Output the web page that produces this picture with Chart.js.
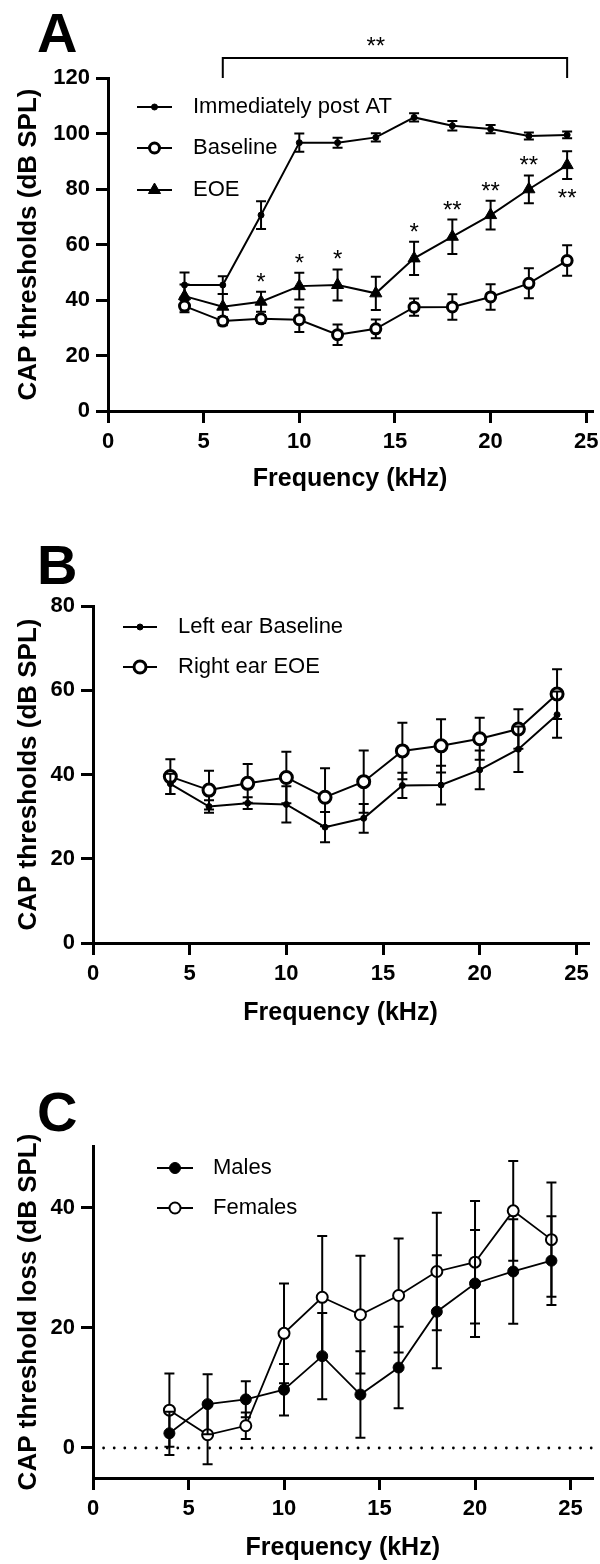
<!DOCTYPE html>
<html>
<head>
<meta charset="utf-8">
<script src="https://cdn.jsdelivr.net/npm/chart.js@4.4.1/dist/chart.umd.min.js"></script>
<style>
html,body{margin:0;padding:0;background:#fff;width:600px;height:1564px;overflow:hidden;}
canvas{position:absolute;left:0;}
.letter{position:absolute;font-family:'Liberation Sans',Arial,sans-serif;font-weight:bold;font-size:56px;line-height:1;color:#000;}
</style>
</head>
<body>
<div class="letter" style="left:37px;top:5px">A</div>
<div class="letter" style="left:37px;top:537px">B</div>
<div class="letter" style="left:37px;top:1084px">C</div>
<canvas id="cA" width="600" height="520" style="top:0px"></canvas>
<canvas id="cB" width="600" height="540" style="top:520px"></canvas>
<canvas id="cC" width="600" height="504" style="top:1060px"></canvas>
<script>
// ---------- data ----------
const freqs = [4, 6, 8, 10, 12, 14, 16, 18, 20, 22, 24];
const xTicks = [0, 5, 10, 15, 20, 25];
const yTicksA = [0, 20, 40, 60, 80, 100, 120];
const yTicksB = [0, 20, 40, 60, 80];
const yTicksC = [0, 20, 40];

// Panel A
const immPost    = [45.4, 45.4, 70.6, 96.7, 96.7, 98.6, 105.8, 102.8, 101.6, 99.1, 99.5];
const immPostErr = [4.5, 3.2, 5.0, 3.3, 1.8, 1.5, 1.5, 1.7, 1.5, 1.3, 1.2];
const baseline    = [37.8, 32.4, 33.2, 32.9, 27.5, 29.6, 37.4, 37.5, 41.1, 46.0, 54.2];
const baselineErr = [2.2, 1.5, 1.4, 4.4, 3.7, 3.4, 3.1, 4.6, 4.6, 5.4, 5.5];
const eoe    = [41.4, 37.6, 39.4, 45.0, 45.4, 42.4, 55.0, 62.8, 70.6, 79.9, 88.6];
const eoeErr = [4.2, 4.6, 3.6, 4.8, 5.6, 6.0, 6.0, 6.2, 5.2, 5.0, 5.0];
const sigLabelsA = ['', '', '*', '*', '*', '', '*', '**', '**', '**', '**'];
const sigBelowA  = [false, false, false, false, false, false, false, false, false, false, true];
const bracketX = [6, 24];
const bracketY = [120, 127.2];
const bracketLabel = '**';
const bracketLabelPos = [14, 128.8];

// Panel B
const leftBase    = [37.8, 32.4, 33.2, 32.9, 27.5, 29.6, 37.4, 37.5, 41.1, 46.0, 54.2];
const leftBaseErr = [2.4, 1.5, 1.4, 4.3, 3.6, 3.4, 3.0, 4.6, 4.6, 5.4, 5.5];
const rightEOE    = [39.5, 36.3, 37.9, 39.3, 34.6, 38.3, 45.6, 46.8, 48.5, 50.8, 59.1];
const rightEOEErr = [4.1, 4.6, 4.6, 6.1, 6.9, 7.4, 6.7, 6.3, 5.0, 4.7, 5.9];

// Panel C
const males      = [2.45, 7.3, 8.1, 9.7, 15.3, 8.9, 13.4, 22.7, 27.4, 29.4, 31.2];
const malesErr   = [3.6, 5.0, 3.0, 4.3, 7.2, 7.2, 6.8, 9.4, 8.9, 8.7, 7.4];
const females    = [6.3, 2.2, 3.7, 19.1, 25.1, 22.2, 25.4, 29.4, 30.95, 39.5, 34.7];
const femalesErr = [6.1, 4.9, 2.2, 8.3, 10.2, 9.8, 9.5, 9.8, 10.2, 8.3, 9.5];
const zeroLineX = [0, 26.15];
const zeroLineY = [0, 0];

// ---------- helpers ----------
const FONT = "'Liberation Sans', Arial, sans-serif";
const pts = (ys, xs) => (xs || freqs).map((f, i) => ({x: f, y: ys[i]}));

function drawMarker(ctx, ds, x, y) {
  const r = ds.pointRadius, bw = ds.pointBorderWidth || 0;
  ctx.beginPath();
  if (ds.pointStyle === 'triangle') {
    let rad = 0;
    for (let k = 0; k < 3; k++) {
      const px = x + Math.sin(rad) * r, py = y - Math.cos(rad) * r;
      if (k === 0) ctx.moveTo(px, py); else ctx.lineTo(px, py);
      rad += 2 * Math.PI / 3;
    }
    ctx.closePath();
  } else {
    ctx.arc(x, y, r, 0, Math.PI * 2);
  }
  ctx.fillStyle = ds.pointBackgroundColor;
  ctx.fill();
  if (bw > 0) { ctx.lineWidth = bw; ctx.strokeStyle = ds.pointBorderColor; ctx.stroke(); }
}

const errorBarPlugin = {
  id: 'errbars',
  beforeDatasetDraw(chart, args) {
    const ds = chart.data.datasets[args.index];
    if (!ds.errors) return;
    const xs = chart.scales.x, ys = chart.scales.y, ctx = chart.ctx;
    ctx.save();
    ctx.strokeStyle = '#000';
    ctx.lineWidth = ds.errorWidth || 2;
    const cw = ds.capHalf || 5;
    ds.data.forEach((p, i) => {
      const e = ds.errors[i];
      const x = xs.getPixelForValue(p.x);
      const yt = ys.getPixelForValue(p.y + e), yb = ys.getPixelForValue(p.y - e);
      ctx.beginPath();
      ctx.moveTo(x, yt); ctx.lineTo(x, yb);
      ctx.moveTo(x - cw, yt); ctx.lineTo(x + cw, yt);
      ctx.moveTo(x - cw, yb); ctx.lineTo(x + cw, yb);
      ctx.stroke();
    });
    ctx.restore();
  }
};

const legendPlugin = {
  id: 'customLegend',
  afterDraw(chart, args, opts) {
    if (!opts || !opts.ys) return;
    const ctx = chart.ctx;
    ctx.save();
    let k = 0;
    chart.data.datasets.forEach(ds => {
      if (ds.noLegend) return;
      const y = opts.ys[k++];
      ctx.strokeStyle = '#000';
      ctx.lineWidth = ds.borderWidth;
      ctx.beginPath();
      ctx.moveTo(opts.lineX[0], y); ctx.lineTo(opts.lineX[1], y);
      ctx.stroke();
      drawMarker(ctx, ds, (opts.lineX[0] + opts.lineX[1]) / 2, y);
      ctx.fillStyle = '#000';
      ctx.font = '22px ' + FONT;
      ctx.textBaseline = 'middle';
      ctx.textAlign = 'left';
      ctx.fillText(ds.label, opts.textX, y);
    });
    ctx.restore();
  }
};

const sigPlugin = {
  id: 'sigMarks',
  afterDatasetsDraw(chart, args, opts) {
    if (!opts || !opts.on) return;
    const xs = chart.scales.x, ys = chart.scales.y, ctx = chart.ctx;
    ctx.save();
    ctx.fillStyle = '#000';
    ctx.strokeStyle = '#000';
    ctx.font = '24px ' + FONT;
    ctx.textAlign = 'center';
    ctx.textBaseline = 'alphabetic';
    freqs.forEach((f, i) => {
      const lab = sigLabelsA[i];
      if (!lab) return;
      const x = xs.getPixelForValue(f);
      const y = sigBelowA[i] ? ys.getPixelForValue(eoe[i] - eoeErr[i]) + 27
                             : ys.getPixelForValue(eoe[i] + eoeErr[i]) - 2;
      ctx.fillText(lab, x, y);
    });
    // significance bracket
    const x1 = xs.getPixelForValue(bracketX[0]), x2 = xs.getPixelForValue(bracketX[1]);
    const yb = ys.getPixelForValue(bracketY[0]), yt = ys.getPixelForValue(bracketY[1]);
    ctx.lineWidth = 2;
    ctx.beginPath();
    ctx.moveTo(x1, yb); ctx.lineTo(x1, yt); ctx.lineTo(x2, yt); ctx.lineTo(x2, yb);
    ctx.stroke();
    ctx.fillText(bracketLabel, xs.getPixelForValue(bracketLabelPos[0]), ys.getPixelForValue(bracketLabelPos[1]));
    ctx.restore();
  }
};

function axisCommon() {
  return {
    grid: {drawOnChartArea: false, drawTicks: true, tickLength: 12, color: '#000', lineWidth: 3},
    border: {display: true, color: '#000', width: 3},
    ticks: {font: {family: FONT, size: 22, weight: 'bold'}, color: '#000', autoSkip: false, maxRotation: 0}
  };
}

function makeChart(id, c) {
  const xa = axisCommon(), ya = axisCommon();
  return new Chart(document.getElementById(id), {
    type: 'line',
    data: {datasets: c.datasets},
    options: {
      responsive: false, animation: false, devicePixelRatio: 1,
      layout: {padding: c.pad},
      plugins: {
        legend: {display: false}, tooltip: {enabled: false},
        customLegend: c.legend,
        sigMarks: {on: !!c.sig}
      },
      scales: {
        x: {
          type: 'linear', min: 0, max: c.xMax,
          grid: xa.grid, border: xa.border,
          ticks: Object.assign({}, xa.ticks, {padding: 6}),
          afterBuildTicks: s => { s.ticks = xTicks.map(v => ({value: v})); },
          afterFit: s => { s.height = c.hx; s.paddingLeft = 0; s.paddingRight = 0; },
          title: {display: true, text: 'Frequency (kHz)', color: '#000',
                  font: {family: FONT, size: 25, weight: 'bold'}, padding: {top: 0, bottom: 0}}
        },
        y: {
          type: 'linear', min: c.yMin, max: c.yMax,
          grid: ya.grid, border: ya.border,
          ticks: Object.assign({}, ya.ticks, {padding: 6}),
          afterBuildTicks: s => { s.ticks = c.yTicks.map(v => ({value: v})); },
          afterFit: s => { s.width = c.wy; s.paddingTop = 0; s.paddingBottom = 0; },
          title: {display: true, text: c.yTitle, color: '#000',
                  font: {family: FONT, size: 26, weight: 'bold'}, padding: {top: 13, bottom: 0}}
        }
      }
    },
    plugins: [errorBarPlugin, legendPlugin, sigPlugin]
  });
}

function series(label, ys, errs, style) {
  return Object.assign({
    label: label, data: pts(ys), errors: errs,
    borderColor: '#000', borderWidth: 2, tension: 0, clip: false,
    pointBorderColor: '#000', pointHoverRadius: 0
  }, style);
}

// ---------- Panel A ----------
makeChart('cA', {
  datasets: [
    series('Immediately post AT', immPost, immPostErr, {pointStyle: 'circle', pointRadius: 3, pointBackgroundColor: '#000', pointBorderWidth: 1}),
    series('Baseline', baseline, baselineErr, {pointStyle: 'circle', pointRadius: 5, pointBackgroundColor: '#fff', pointBorderWidth: 3}),
    series('EOE', eoe, eoeErr, {pointStyle: 'triangle', pointRadius: 7, pointBackgroundColor: '#000', pointBorderWidth: 1})
  ],
  yMin: 0, yMax: 120, xMax: 25.3, yTicks: yTicksA,
  yTitle: 'CAP thresholds (dB SPL)',
  pad: {top: 78, left: 0, right: 7, bottom: 26}, wy: 108, hx: 83,
  legend: {ys: [107, 148, 190], lineX: [137, 172], textX: 193},
  sig: true
});

// ---------- Panel B ----------
makeChart('cB', {
  datasets: [
    series('Left ear Baseline', leftBase, leftBaseErr, {pointStyle: 'circle', pointRadius: 3, pointBackgroundColor: '#000', pointBorderWidth: 1}),
    series('Right ear EOE', rightEOE, rightEOEErr, {pointStyle: 'circle', pointRadius: 6, pointBackgroundColor: '#fff', pointBorderWidth: 3})
  ],
  yMin: 0, yMax: 80, xMax: 25.6, yTicks: yTicksB,
  yTitle: 'CAP thresholds (dB SPL)',
  pad: {top: 86, left: 0, right: 12, bottom: 32}, wy: 93, hx: 85,
  legend: {ys: [107, 147], lineX: [123, 157], textX: 178}
});

// ---------- Panel C ----------
makeChart('cC', {
  datasets: [
    series('Males', males, malesErr, {pointStyle: 'circle', pointRadius: 5.5, pointBackgroundColor: '#000', pointBorderWidth: 1, borderWidth: 1.8}),
    series('Females', females, femalesErr, {pointStyle: 'circle', pointRadius: 5.5, pointBackgroundColor: '#fff', pointBorderWidth: 2, borderWidth: 1.8}),
    {label: 'zero', data: pts(zeroLineY, zeroLineX), noLegend: true, borderColor: '#000', borderWidth: 2.8,
     borderDash: [0, 10.6], borderCapStyle: 'round', pointRadius: 0, clip: false}
  ],
  yMin: -5, yMax: 50.3, xMax: 26.15, yTicks: yTicksC,
  yTitle: 'CAP threshold loss (dB SPL)',
  pad: {top: 86, left: 0, right: 4, bottom: 1}, wy: 93, hx: 85,
  legend: {ys: [108, 148], lineX: [157, 193], textX: 213}
});
</script>
</body>
</html>
